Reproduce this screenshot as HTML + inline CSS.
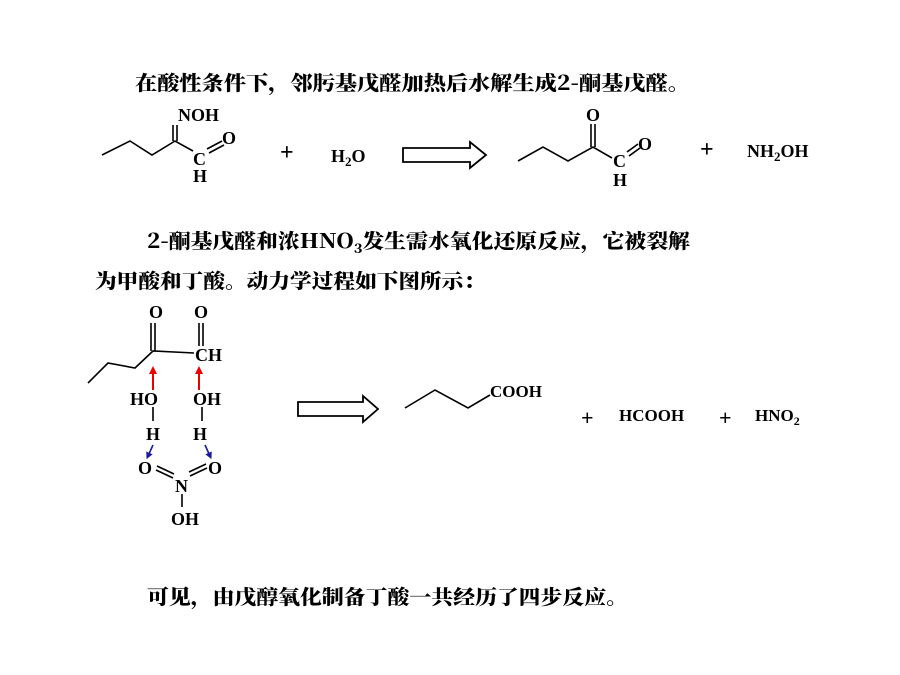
<!DOCTYPE html>
<html><head><meta charset="utf-8"><style>
html,body{margin:0;padding:0;background:#fff;}
svg{display:block;}
text{font-family:"Liberation Serif","Noto Serif CJK SC",serif;font-weight:bold;fill:#000;}
.cn{font-family:"Noto Serif CJK SC","WenQuanYi Zen Hei",serif;font-weight:900;font-size:20px;}
.ch{font-size:18px;}
</style></head><body>
<svg width="900" height="675" viewBox="0 0 900 675" xmlns="http://www.w3.org/2000/svg">
<defs>
<marker id="ra" markerWidth="8" markerHeight="8" refX="4" refY="4" orient="auto" markerUnits="userSpaceOnUse"><path d="M0,0 L8,4 L0,8 z" fill="#e00"/></marker>
<marker id="ba" markerWidth="7" markerHeight="7" refX="3.5" refY="3.5" orient="auto" markerUnits="userSpaceOnUse"><path d="M0,0 L7,3.5 L0,7 z" fill="#1a1aa0"/></marker>
</defs>
<g stroke="#000" stroke-width="1.6" fill="none">
<polyline points="102,155 130,141 152,155 175,141 193,151"/>
<line x1="173" y1="141" x2="173" y2="125"/><line x1="177" y1="141" x2="177" y2="125"/>
<line x1="207" y1="149" x2="222" y2="141"/><line x1="209" y1="153" x2="224" y2="145"/>
<path d="M403,148 L470,148 L470,142 L486,155 L470,168 L470,162 L403,162 Z" stroke-width="1.8"/>
<polyline points="518,161 543,147 568,161 593,147 612,158"/>
<line x1="591" y1="147" x2="591" y2="124"/><line x1="595" y1="147" x2="595" y2="124"/>
<line x1="627" y1="152" x2="638" y2="144"/><line x1="629" y1="156" x2="640" y2="148"/>
<polyline points="88,383 108,363 135,368 153,351 194,353"/>
<line x1="151" y1="351" x2="151" y2="323"/><line x1="155" y1="351" x2="155" y2="323"/>
<line x1="199" y1="346" x2="199" y2="323"/><line x1="203" y1="346" x2="203" y2="323"/>
<line x1="153" y1="407" x2="153" y2="421"/>
<line x1="202" y1="407" x2="202" y2="421"/>
<line x1="156" y1="470" x2="173" y2="478"/><line x1="157" y1="466" x2="174" y2="474"/>
<line x1="190" y1="476" x2="207" y2="468"/><line x1="189" y1="472" x2="206" y2="464"/>
<line x1="182" y1="494" x2="182" y2="507"/>
<path d="M298,402 L363,402 L363,396 L378,409 L363,422 L363,416 L298,416 Z" stroke-width="1.8"/>
<polyline points="405,408 435,390 468,408 490,395"/>
</g>
<g stroke="#e00" stroke-width="2">
<line x1="153" y1="390" x2="153" y2="370" marker-end="url(#ra)"/>
<line x1="199" y1="390" x2="199" y2="370" marker-end="url(#ra)"/>
</g>
<g stroke="#1a1aa0" stroke-width="1.6">
<line x1="153" y1="445" x2="148" y2="456" marker-end="url(#ba)"/>
<line x1="205" y1="445" x2="210" y2="456" marker-end="url(#ba)"/>
</g>
<text class="cn" x="135" y="90" textLength="555" lengthAdjust="spacingAndGlyphs">在酸性条件下，邻肟基戊醛加热后水解生成2-酮基戊醛。</text>
<text class="ch" x="178" y="121">NOH</text>
<text class="ch" x="222" y="144">O</text>
<text class="ch" x="193" y="165">C</text>
<text class="ch" x="193" y="182">H</text>
<text style="font-size:24px" x="280" y="160">+</text>
<text class="ch" x="331" y="162">H<tspan font-size="13" dy="4">2</tspan><tspan dy="-4">O</tspan></text>
<text class="ch" x="586" y="121">O</text>
<text class="ch" x="638" y="150">O</text>
<text class="ch" x="613" y="167">C</text>
<text class="ch" x="613" y="186">H</text>
<text style="font-size:24px" x="700" y="157">+</text>
<text class="ch" x="747" y="157">NH<tspan font-size="13" dy="4">2</tspan><tspan dy="-4">OH</tspan></text>
<text class="cn" x="147" y="248" textLength="543" lengthAdjust="spacingAndGlyphs">2-酮基戊醛和浓HNO<tspan font-size="13" dy="5">3</tspan><tspan dy="-5">发生需水氧化还原反应，它被裂解</tspan></text>
<text class="cn" x="95" y="288" textLength="390" lengthAdjust="spacingAndGlyphs">为甲酸和丁酸。动力学过程如下图所示：</text>
<text class="ch" x="149" y="318">O</text>
<text class="ch" x="194" y="318">O</text>
<text class="ch" x="195" y="361">CH</text>
<text class="ch" x="130" y="405">HO</text>
<text class="ch" x="193" y="405">OH</text>
<text class="ch" x="146" y="440">H</text>
<text class="ch" x="193" y="440">H</text>
<text class="ch" x="138" y="474">O</text>
<text class="ch" x="208" y="474">O</text>
<text class="ch" x="175" y="492">N</text>
<text class="ch" x="171" y="525">OH</text>
<text style="font-size:17px" x="490" y="397">COOH</text>
<text style="font-size:22px" x="581" y="425">+</text>
<text style="font-size:17px" x="619" y="421">HCOOH</text>
<text style="font-size:22px" x="719" y="425">+</text>
<text style="font-size:17px" x="755" y="421">HNO<tspan font-size="12" dy="4">2</tspan></text>
<text class="cn" x="147" y="604" textLength="481" lengthAdjust="spacingAndGlyphs">可见，由戊醇氧化制备丁酸一共经历了四步反应。</text>
</svg>
</body></html>
